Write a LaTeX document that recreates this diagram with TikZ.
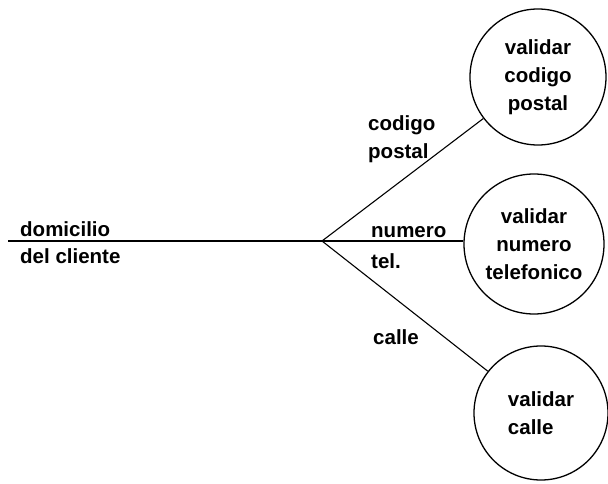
\documentclass[tikz,border=0pt]{standalone}
\usepackage{fontspec}
\setmainfont{Liberation Sans}
\begin{document}
\begin{tikzpicture}[x=1pt,y=-1pt,
  lbl/.style={font=\bfseries\fontsize{20.5}{28}\selectfont, inner sep=0pt, anchor=base west},
  proc/.style={draw, circle, line width=1.3pt, minimum size=136pt, inner sep=0pt,
    font=\bfseries\fontsize{20.5}{28}\selectfont, align=center},
  flow/.style={line width=1.1pt}]
\useasboundingbox[fill=white] (0,0) rectangle (608,484);
% processes
\node[proc] (c1) at (538,77) {validar\\codigo\\postal};
\node[proc, minimum size=140pt] (c2) at (534,244) {validar\\numero\\telefonico};
\node[proc, minimum size=134pt, align=left] (c3) at (541,413) {validar\\calle};
% flows
\coordinate (src) at (8,241);
\coordinate (j) at (322,241);
\draw[flow] (src) -- (j);
\draw[flow] (j) -- (c1);
\draw[flow] (j) -- (c2.west |- j);
\draw[flow] (j) -- (c3);
% labels
\node[lbl] (d1) at (20,236) {domicilio};
\node[lbl] (d2) at (20,263) {del cliente};
\node[lbl] (l1a) at (368,131) {codigo};
\node[lbl] (l1b) at (368,159) {postal};
\node[lbl] (l2a) at (371,237) {numero};
\node[lbl] (l2b) at (371,268) {tel.};
\node[lbl] (l3) at (373,344) {calle};
\end{tikzpicture}
\end{document}
